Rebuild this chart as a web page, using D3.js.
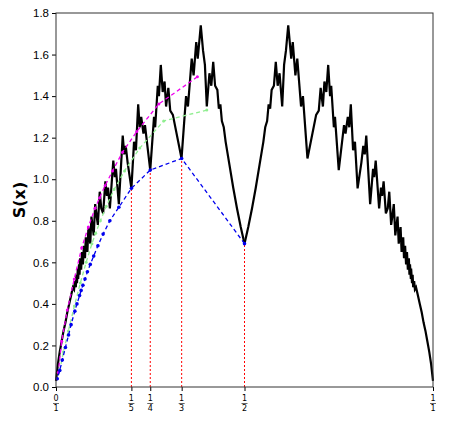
<!DOCTYPE html>
<html><head><meta charset="utf-8">
<script src="https://cdn.jsdelivr.net/npm/d3@7"></script>
<style>body{margin:0;background:#fff}svg{font-family:"DejaVu Sans",sans-serif}</style>
</head><body><svg id="c" width="460" height="424"></svg>
<script>
// left half of S(x); the right half is the mirror image (drawn with a reversed x scale)
const curveLeft = [[0,0.03],[0.005,0.11],[0.01,0.17],[0.015,0.22],[0.02,0.27],[0.025,0.31],[0.03,0.36],[0.035,0.40],[0.04,0.44],[0.045,0.48],
[0.048,0.47],[0.05,0.51],[0.0526,0.48],[0.054,0.54],[0.0556,0.50],[0.058,0.57],[0.0588,0.52],[0.061,0.59],[0.0625,0.54],[0.064,0.62],[0.0667,0.565],
[0.069,0.65],[0.0714,0.59],[0.074,0.68],[0.0769,0.62],[0.079,0.72],[0.0833,0.65],[0.086,0.77],[0.0909,0.69],[0.094,0.82],[0.1,0.73],
[0.104,0.88],[0.108,0.82],[0.111,0.78],[0.116,0.94],[0.12,0.86],[0.125,0.836],[0.131,0.99],[0.135,0.92],[0.138,0.96],[0.1429,0.86],
[0.152,1.09],[0.156,1.01],[0.159,1.05],[0.1667,0.88],[0.177,1.21],[0.181,1.12],[0.185,1.16],[0.19,1.08],[0.2,0.956],
[0.207,1.18],[0.212,1.14],[0.218,1.36],[0.222,1.25],[0.226,1.30],[0.232,1.22],[0.236,1.26],[0.25,1.044],
[0.26,1.30],[0.263,1.25],[0.27,1.45],[0.273,1.40],[0.278,1.55],[0.283,1.42],[0.288,1.47],[0.292,1.35],[0.298,1.44],[0.303,1.33],[0.31,1.31],[0.333,1.10],
[0.345,1.40],[0.35,1.35],[0.36,1.58],[0.365,1.50],[0.372,1.66],[0.376,1.58],[0.384,1.74],[0.39,1.62],[0.395,1.55],[0.40,1.35],[0.407,1.51],[0.412,1.45],[0.417,1.565],
[0.422,1.45],[0.428,1.43],[0.432,1.34],[0.436,1.36],[0.44,1.28],[0.445,1.25],[0.45,1.18],[0.46,1.07],[0.47,0.96],[0.48,0.86],[0.49,0.77],[0.5,0.69]];
const blueX = [1/2,1/3,1/4,1/5,1/6,1/7,1/8,1/9,1/10,1/11,1/12,1/13,1/14,1/15,1/16,1/18,1/20,1/25,1/30,1/40,1/60,1/100,1/300];
const blueY = [0.69,1.10,1.044,0.956,0.865,0.80,0.736,0.68,0.63,0.59,0.555,0.52,0.49,0.465,0.44,0.40,0.365,0.30,0.25,0.19,0.13,0.08,0.04];
const greenX = [2/5,2/7,2/9,2/11,2/13,2/15,2/17,2/19,2/21,2/25,2/31,2/41,2/61,2/101,2/201];
const greenY = [1.333,1.28,1.15,1.04,0.95,0.87,0.80,0.74,0.69,0.60,0.50,0.39,0.27,0.17,0.08];
const magX = [3/8,3/11,3/14,3/17,3/20,3/23,3/26,3/29,3/35,3/44,3/62,3/100,3/200,3/500];
const magY = [1.493,1.362,1.23,1.13,1.04,0.97,0.91,0.86,0.77,0.67,0.52,0.37,0.22,0.07];
const redX = [1/5,1/4,1/3,1/2];
const redY = [0.956,1.044,1.10,0.69];
const xTicks = [[0,1],[1,5],[1,4],[1,3],[1,2],[1,1]];
const yTicks = [0,0.2,0.4,0.6,0.8,1.0,1.2,1.4,1.6,1.8];

const svg = d3.select("#c");
const L=56,R=433,T=13,B=387;
const x = d3.scaleLinear().domain([0,1]).range([L,R]);
const xm = d3.scaleLinear().domain([1,0]).range([L,R]);
const y = d3.scaleLinear().domain([0,1.8]).range([B,T]);

const line = sx => d3.line().x(d=>sx(d[0])).y(d=>y(d[1]));
svg.append("path").attr("d",line(x)(curveLeft)).attr("fill","none").attr("stroke","#000").attr("stroke-width",2.2);
svg.append("path").attr("d",line(xm)(curveLeft)).attr("fill","none").attr("stroke","#000").attr("stroke-width",2.2);

svg.selectAll(".red").data(redX).join("line").attr("x1",d=>x(d)).attr("x2",d=>x(d)).attr("y1",y(0)).attr("y2",(d,i)=>y(redY[i]))
 .attr("stroke","#ff0000").attr("stroke-width",1).attr("stroke-dasharray","2,2");

function series(xs,ys,col,r){
  const pts = xs.map((v,i)=>[v,ys[i]]);
  svg.append("path").attr("d",line(x)(pts)).attr("fill","none").attr("stroke",col).attr("stroke-width",1.3).attr("stroke-dasharray","4,3");
  svg.append("g").selectAll("circle").data(pts).join("circle").attr("cx",d=>x(d[0])).attr("cy",d=>y(d[1])).attr("r",r).attr("fill",col);
}
series(greenX,greenY,"#90ee90",1.5);
series(magX,magY,"#ee00ee",1.5);
series(blueX,blueY,"#0000ee",1.8);

const ya = svg.append("g").attr("transform",`translate(${L},0)`).call(d3.axisLeft(y).tickValues(yTicks).tickFormat(d3.format(".1f")).tickSize(4));
ya.selectAll("text").attr("font-size",11.5).attr("fill","#000");
const xa = svg.append("g").attr("transform",`translate(0,${B})`).call(d3.axisBottom(x).tickValues(xTicks.map(t=>t[0]/t[1])).tickFormat("").tickSize(4));
xa.selectAll(".domain").remove(); ya.selectAll(".domain").remove();
svg.append("rect").attr("x",L).attr("y",T).attr("width",R-L).attr("height",B-T).attr("fill","none").attr("stroke","#333").attr("stroke-width",1);
const ft = svg.append("g");
xTicks.forEach(t=>{
  const cx = x(t[0]/t[1]);
  ft.append("text").attr("x",cx).attr("y",401).attr("text-anchor","middle").attr("font-size",8).text(t[0]);
  ft.append("line").attr("x1",cx-3).attr("x2",cx+3).attr("y1",403.5).attr("y2",403.5).attr("stroke","#000").attr("stroke-width",0.6);
  ft.append("text").attr("x",cx).attr("y",411).attr("text-anchor","middle").attr("font-size",8).text(t[1]);
});
svg.append("text").attr("transform","translate(25,200) rotate(-90)").attr("text-anchor","middle").attr("font-size",16).attr("font-weight","bold").text("S(x)");
</script></body></html>
